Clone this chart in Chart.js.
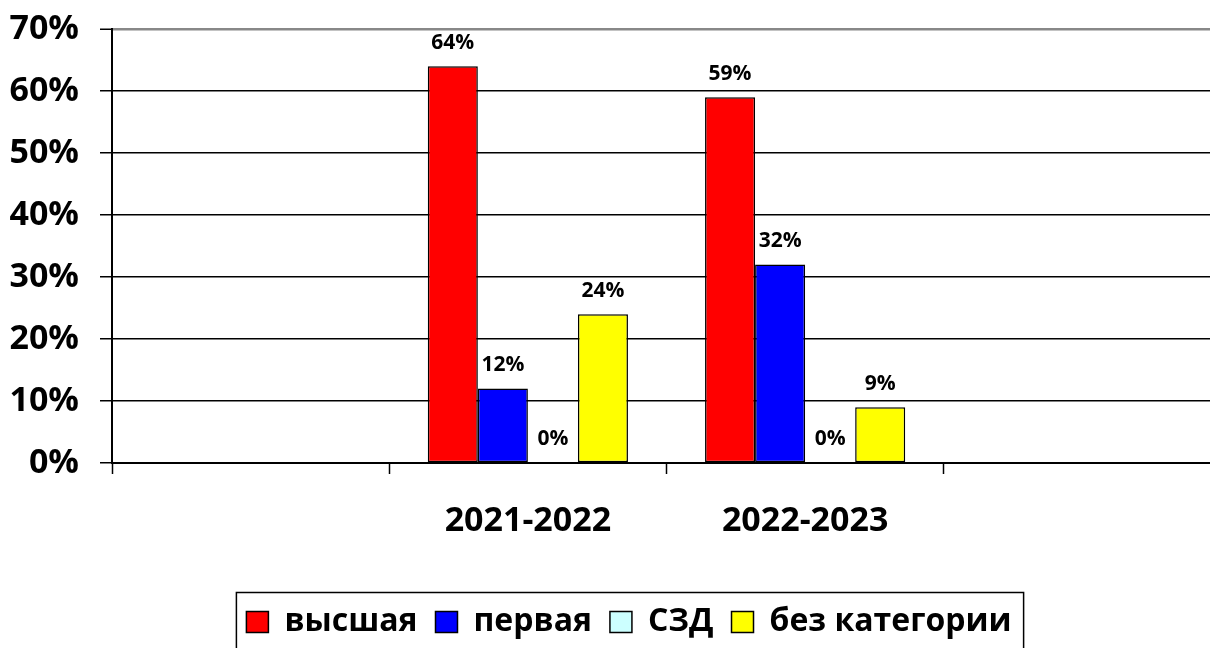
<!DOCTYPE html>
<html>
<head>
<meta charset="utf-8">
<script src="https://cdn.jsdelivr.net/npm/chart.js@4/dist/chart.umd.min.js"></script>
<style>
html,body{margin:0;padding:0;background:#fff;overflow:hidden;}
#wrap{width:1258px;height:648px;position:relative;}
</style>
</head>
<body>
<div id="wrap"><canvas id="c"></canvas></div>
<script>
const categories = ['', '2021-2022', '2022-2023', ''];
const seriesNames = ['высшая', 'первая', 'СЗД', 'без категории'];
const vysshaya = [null, 64, 59, null];
const pervaya = [null, 12, 32, null];
const szd = [null, 0, 0, null];
const bezKategorii = [null, 24, 9, null];
const yTicks = [0, 10, 20, 30, 40, 50, 60, 70];
const seriesColors = ['#ff0000', '#0000ff', '#ccffff', '#ffff00'];

const FONT = "'Open Sans', 'DejaVu Sans', sans-serif";

const dataLabels = {
  id: 'dataLabels',
  afterDatasetsDraw(chart) {
    const ctx = chart.ctx;
    ctx.save();
    ctx.font = 'bold 21px ' + FONT;
    ctx.fillStyle = '#000';
    ctx.textAlign = 'center';
    ctx.textBaseline = 'middle';
    chart.data.datasets.forEach((ds, di) => {
      const meta = chart.getDatasetMeta(di);
      meta.data.forEach((el, i) => {
        const v = ds.data[i];
        if (v === null || v === undefined) return;
        ctx.fillText(v + '%', el.x, el.y - 23.5);
      });
    });
    ctx.restore();
  }
};

const legendBorder = {
  id: 'legendBorder',
  afterDraw(chart) {
    const lg = chart.legend;
    if (!lg || !lg.legendHitBoxes || !lg.legendHitBoxes.length) return;
    const hb = lg.legendHitBoxes;
    const first = hb[0], last = hb[hb.length - 1];
    const cy = first.top + first.height / 2;
    const left = first.left - 10;
    const right = last.left + last.width + 12;
    const top = cy - 29.5;
    const ctx = chart.ctx;
    ctx.save();
    ctx.strokeStyle = '#000';
    ctx.lineWidth = 1.5;
    ctx.strokeRect(left, top, right - left, 80);
    ctx.restore();
  }
};

new Chart(document.getElementById('c'), {
  type: 'bar',
  data: {
    labels: categories,
    datasets: [
      { label: seriesNames[0], data: vysshaya, backgroundColor: seriesColors[0] },
      { label: seriesNames[1], data: pervaya, backgroundColor: seriesColors[1] },
      { label: seriesNames[2], data: szd, backgroundColor: seriesColors[2] },
      { label: seriesNames[3], data: bezKategorii, backgroundColor: seriesColors[3] }
    ].map(d => Object.assign(d, { borderColor: '#000', borderWidth: 1.5, borderSkipped: false, categoryPercentage: 0.722, barPercentage: 1 }))
  },
  options: {
    responsive: true,
    maintainAspectRatio: false,
    animation: false,
    events: [],
    layout: { padding: { left: 0, right: 0, top: 29, bottom: 0 } },
    plugins: {
      tooltip: { enabled: false },
      legend: {
        position: 'bottom',
        labels: {
          boxWidth: 22,
          boxHeight: 21,
          padding: 18,
          color: '#000',
          font: { family: FONT, size: 32, weight: 'bold' }
        }
      }
    },
    scales: {
      x: {
        offset: true,
        afterFit(scale) { scale.height = 125; scale.paddingLeft = 0; scale.paddingRight = 0; },
        grid: { drawOnChartArea: false, drawTicks: true, tickLength: 11, tickColor: '#000', tickWidth: 1.5, offset: true },
        border: { display: true, color: '#000', width: 2 },
        ticks: { color: '#000', padding: 27, maxRotation: 0, font: { family: FONT, size: 34, weight: 'bold' } }
      },
      y: {
        min: 0,
        max: 70,
        afterFit(scale) { scale.width = 112; scale.paddingTop = 0; scale.paddingBottom = 0; },
        afterBuildTicks(scale) { scale.ticks = yTicks.map(v => ({ value: v })); },
        grid: {
          color: ctx => (ctx.tick && ctx.tick.value === 70) ? '#888' : '#000',
          lineWidth: ctx => (ctx.tick && ctx.tick.value === 70) ? 2.5 : 1.5,
          tickLength: 12,
          tickColor: '#000',
          tickWidth: 1.5
        },
        border: { display: true, color: '#000', width: 2 },
        ticks: {
          color: '#000',
          padding: 21,
          callback: v => v + '%',
          font: { family: FONT, size: 34, weight: 'bold' }
        }
      },
      yRightSpace: {
        type: 'linear',
        position: 'right',
        display: true,
        afterFit(scale) { scale.width = 37; scale.paddingTop = 0; scale.paddingBottom = 0; },
        grid: { display: false, drawTicks: false },
        border: { display: false },
        ticks: { display: false }
      }
    }
  },
  plugins: [dataLabels, legendBorder]
});
</script>
</body>
</html>
